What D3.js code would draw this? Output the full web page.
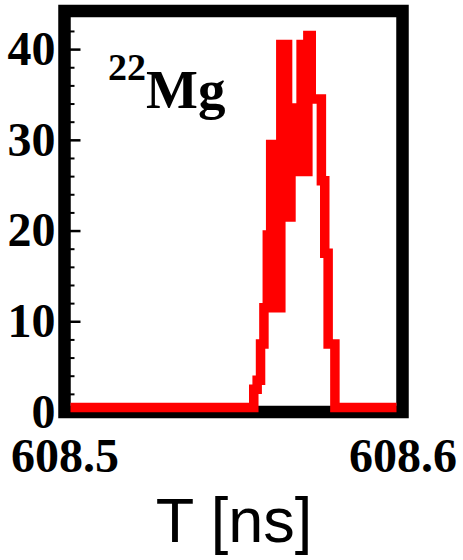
<html>

<head>
    <meta charset="utf-8">
    <script src="https://cdn.jsdelivr.net/npm/d3@7"></script>

    <style>
        body {
            margin: 0;
            background: #fff;
        }

        .tick text {
            font-family: "Liberation Serif", "Times New Roman", serif;
            font-weight: bold;
            font-size: 48px;
            fill: #000;
        }
    </style>
</head>

<body>
    <div id="chart"></div>

    <script>
        // histogram bins (start time in ns) and counts
        var binTimes = [608.500,
            608.556, 608.557, 608.558, 608.559, 608.560, 608.561, 608.562, 608.563,
            608.564, 608.565, 608.566, 608.567, 608.568, 608.569, 608.570, 608.571,
            608.572, 608.573, 608.574, 608.575, 608.576, 608.577, 608.578, 608.579,
            608.580, 608.600];
        var counts = [0,
            2, 3, 7, 11, 19, 29, 11, 11,
            40, 40, 21, 33, 26, 26, 40, 26,
            41, 34, 34, 34, 25, 17, 7, 7,
            0, 0];

        var xTicks = [608.5, 608.6];
        var yMajorTicks = [0, 10, 20, 30, 40];
        var yMinorTicks = [2, 4, 6, 8, 12, 14, 16, 18, 22, 24, 26, 28, 32, 34, 36, 38, 42];
        var xDomain = [608.5, 608.6];
        var yDomain = [0, 44.2];

        var width = 463;
        var height = 560;

        var data = binTimes.map((t, i) => ({ t: t, c: counts[i] }));

        /* Scale */
        var x = d3.scaleLinear().domain(xDomain).range([64.5, 402.5]);
        var y = d3.scaleLinear().domain(yDomain).range([412, 11]);

        var svg = d3.select("#chart").append("svg")
            .attr("width", width)
            .attr("height", height);

        svg.append("rect")
            .attr("width", width)
            .attr("height", height)
            .attr("fill", "#fff");

        // clip for the red curve so it stays inside the thick frame
        svg.append("clipPath")
            .attr("id", "inner")
            .append("rect")
            .attr("x", x(xDomain[0]) + 6)
            .attr("y", 0)
            .attr("width", x(xDomain[1]) - x(xDomain[0]) - 12)
            .attr("height", height);

        /* thick frame */
        svg.append("rect")
            .attr("x", x(xDomain[0]))
            .attr("y", y(yDomain[1]))
            .attr("width", x(xDomain[1]) - x(xDomain[0]))
            .attr("height", y(0) - y(yDomain[1]))
            .attr("fill", "none")
            .attr("stroke", "#000")
            .attr("stroke-width", 12.5);

        /* Axes */
        var yAxis = d3.axisLeft(y)
            .tickValues(yMajorTicks)
            .tickSizeInner(-16)
            .tickSizeOuter(0)
            .tickPadding(9);

        var yMinor = d3.axisLeft(y)
            .tickValues(yMinorTicks)
            .tickSizeInner(-10)
            .tickSizeOuter(0)
            .tickFormat("");

        var gy = svg.append("g")
            .attr("transform", `translate(${x(xDomain[0])}, 0)`)
            .call(yAxis);
        gy.select(".domain").remove();
        gy.selectAll("line").attr("stroke-width", 2.5);

        var gm = svg.append("g")
            .attr("transform", `translate(${x(xDomain[0])}, 0)`)
            .call(yMinor);
        gm.select(".domain").remove();
        gm.selectAll("line").attr("stroke-width", 2);

        var xAxis = d3.axisBottom(x)
            .tickValues(xTicks)
            .tickSize(0)
            .tickPadding(26)
            .tickFormat(d3.format(".1f"));

        var gx = svg.append("g")
            .attr("transform", `translate(0, ${y(0)})`)
            .call(xAxis);
        gx.select(".domain").remove();

        /* histogram */
        var line = d3.line()
            .x(d => x(d.t))
            .y(d => y(d.c))
            .curve(d3.curveStepAfter);

        svg.append("g")
            .attr("clip-path", "url(#inner)")
            .append("path")
            .attr("transform", "translate(0, -4.5)")
            .attr("d", line(data))
            .attr("fill", "none")
            .attr("stroke", "#ff0000")
            .attr("stroke-width", 9.5)
            .attr("stroke-linejoin", "miter")
            .attr("stroke-linecap", "butt");

        /* isotope label */
        var label = svg.append("text")
            .attr("x", 108)
            .attr("y", 108)
            .style("font-family", "'Liberation Serif', 'Times New Roman', serif")
            .style("font-weight", "bold")
            .style("fill", "#000");
        label.append("tspan")
            .attr("dy", -28)
            .style("font-size", "38px")
            .text("22");
        label.append("tspan")
            .attr("dy", 28)
            .style("font-size", "55px")
            .text("Mg");

        /* axis title */
        svg.append("text")
            .attr("x", 234)
            .attr("y", 542)
            .attr("text-anchor", "middle")
            .style("font-family", "'Liberation Sans', Arial, sans-serif")
            .style("font-size", "63px")
            .style("fill", "#000")
            .text("T [ns]");
    </script>
</body>

</html>
